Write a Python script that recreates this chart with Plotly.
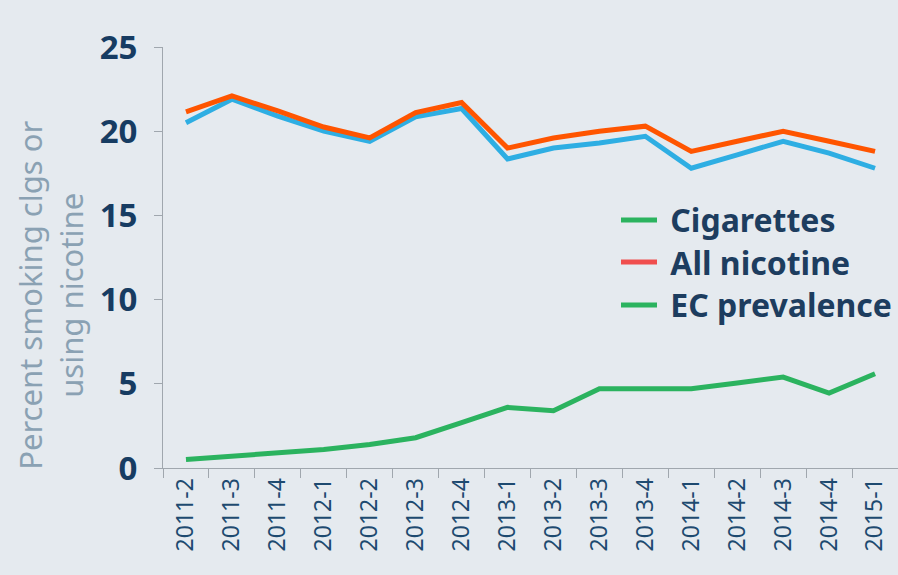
import plotly.graph_objects as go

quarters = ["2011-2", "2011-3", "2011-4", "2012-1", "2012-2", "2012-3", "2012-4", "2013-1",
            "2013-2", "2013-3", "2013-4", "2014-1", "2014-2", "2014-3", "2014-4", "2015-1"]
cigarettes = [20.5, 21.9, 20.9, 20.0, 19.4, 20.85, 21.35, 18.35, 19.0, 19.3, 19.7, 17.8, 18.6, 19.4, 18.7, 17.8]
all_nicotine = [21.15, 22.1, 21.2, 20.25, 19.6, 21.1, 21.7, 19.0, 19.6, 20.0, 20.3, 18.8, 19.4, 20.0, 19.4, 18.8]
ec_prevalence = [0.5, 0.7, 0.9, 1.1, 1.4, 1.8, 2.7, 3.6, 3.4, 4.7, 4.7, 4.7, 5.05, 5.4, 4.45, 5.6]

legend_names = ["Cigarettes", "All nicotine", "EC prevalence"]
legend_colors = ["#2bb35f", "#f04e4e", "#2bb35f"]
legend_ids = ["legend", "legend2", "legend3"]
legend_y = [0.654, 0.554, 0.452]

BG = "#e5eaef"
NAVY = "#173c62"

fig = go.Figure()
fig.add_trace(go.Scatter(x=quarters, y=cigarettes, mode="lines", name="Cigarettes",
                         line=dict(color="#2eaee3", width=5), showlegend=False))
fig.add_trace(go.Scatter(x=quarters, y=all_nicotine, mode="lines", name="All nicotine",
                         line=dict(color="#ff5500", width=5), showlegend=False))
fig.add_trace(go.Scatter(x=quarters, y=ec_prevalence, mode="lines", name="EC prevalence",
                         line=dict(color="#2bb35f", width=5), showlegend=False))
for n, c, lid in zip(legend_names, legend_colors, legend_ids):
    fig.add_trace(go.Scatter(x=[None], y=[None], mode="lines", name="\u00a0" + n, legend=lid,
                             line=dict(color=c, width=5), showlegend=True))

legend_style = dict(x=(616 - 163) / 735, xanchor="left", yanchor="top", bgcolor="rgba(0,0,0,0)",
                    itemwidth=36,
                    font=dict(family="Noto Sans", size=32, color="#1d3d5f", weight="bold"))

fig.update_layout(
    width=898, height=575,
    margin=dict(l=163, r=0, t=47, b=107, autoexpand=False),
    paper_bgcolor=BG, plot_bgcolor=BG,
    font=dict(family="Noto Sans", color=NAVY),
    showlegend=True,
    legend=dict(y=legend_y[0], **legend_style),
    legend2=dict(y=legend_y[1], **legend_style),
    legend3=dict(y=legend_y[2], **legend_style),
    xaxis=dict(type="category", range=[-0.5, 15.5], tickangle=-90,
               showline=True, linecolor="#a0a7ae", linewidth=1,
               ticks="outside", tickson="boundaries", ticklen=9, tickcolor="#a0a7ae",
               showgrid=False, zeroline=False,
               tickfont=dict(family="Noto Sans", size=23, color="#1e4a70")),
    yaxis=dict(range=[0, 25], dtick=5, showline=True, linecolor="#a0a7ae", linewidth=1,
               ticks="outside", ticklen=8, tickcolor="#a0a7ae", ticklabelstandoff=10,
               showgrid=False, zeroline=False,
               tickfont=dict(family="Noto Sans", size=33, color=NAVY, weight="bold")),
    annotations=[dict(text="Percent smoking clgs or<br>using nicotine", textangle=-90,
                      xref="paper", yref="paper", x=-0.1537, y=0.409,
                      xanchor="center", yanchor="middle", showarrow=False, align="center",
                      font=dict(family="Noto Sans", size=31, color="#8aa1b3"))],
)

fig.write_html("out.html")
